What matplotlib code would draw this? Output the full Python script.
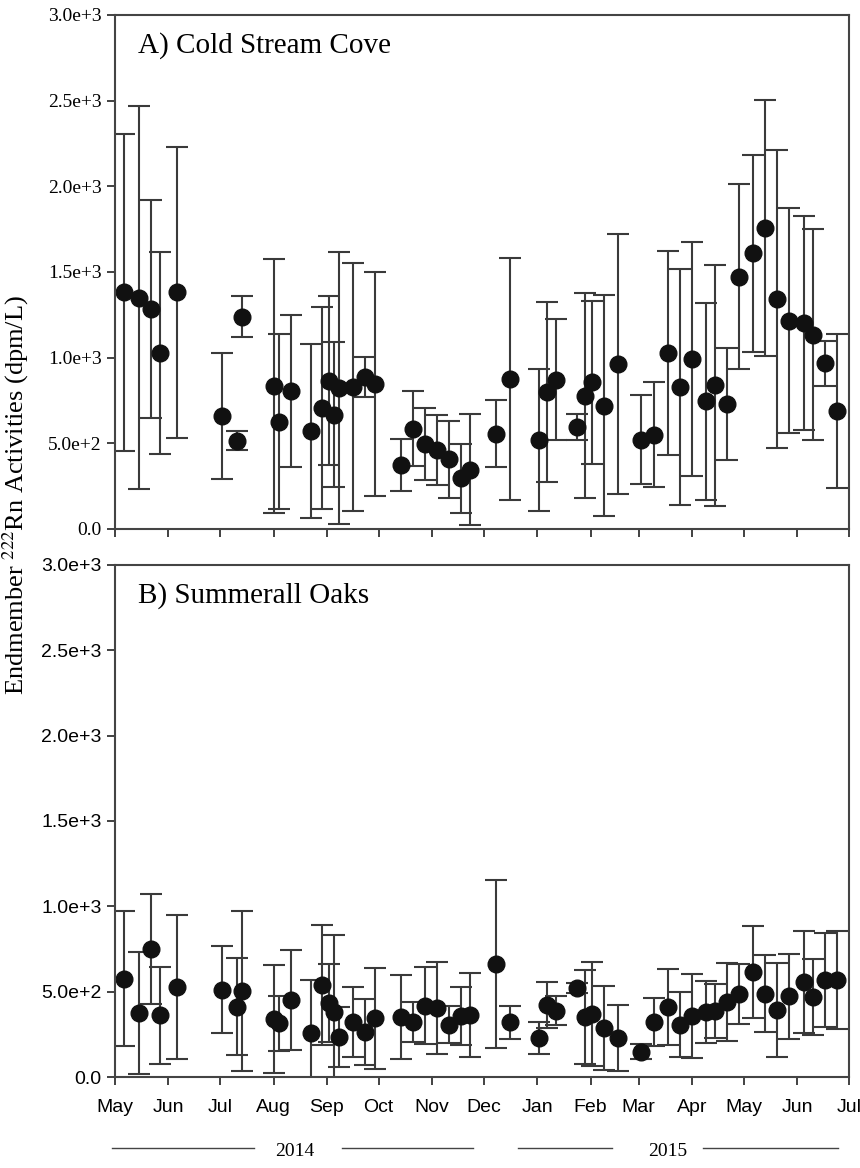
import numpy as np
import pandas as pd
import matplotlib
matplotlib.use("Agg")
import matplotlib.pyplot as plt
import matplotlib.dates as mdates
from matplotlib.ticker import FuncFormatter, FixedLocator
from matplotlib.lines import Line2D

# sampling dates (shared by both sites)
dates = pd.to_datetime([
    "2014-05-06", "2014-05-15", "2014-05-22", "2014-05-27", "2014-06-06",
    "2014-07-02", "2014-07-11", "2014-07-14", "2014-08-01", "2014-08-04",
    "2014-08-11", "2014-08-23", "2014-08-29", "2014-09-02", "2014-09-05",
    "2014-09-08", "2014-09-16", "2014-09-23", "2014-09-29", "2014-10-14",
    "2014-10-21", "2014-10-28", "2014-11-04", "2014-11-11", "2014-11-18",
    "2014-11-23", "2014-12-08", "2014-12-16", "2015-01-02", "2015-01-07",
    "2015-01-12", "2015-01-24", "2015-01-29", "2015-02-02", "2015-02-09",
    "2015-02-17", "2015-03-02", "2015-03-10", "2015-03-18", "2015-03-25",
    "2015-04-01", "2015-04-09", "2015-04-14", "2015-04-21", "2015-04-28",
    "2015-05-06", "2015-05-13", "2015-05-20", "2015-05-27", "2015-06-05",
    "2015-06-10", "2015-06-17", "2015-06-24",
])

# A) Cold Stream Cove
csc_rn = [1381, 1350, 1282, 1025, 1381, 660, 514, 1239, 835, 626,
          805, 572, 706, 864, 667, 823, 829, 887, 845, 374,
          586, 496, 461, 407, 296, 346, 556, 874, 520, 802,
          870, 595, 778, 856, 720, 963, 520, 549, 1027, 827,
          992, 745, 839, 731, 1471, 1609, 1757, 1341, 1216, 1202,
          1134, 967, 687]
csc_err = [923, 1118, 636, 590, 850, 368, 55, 120, 742, 512,
           445, 506, 587, 493, 423, 793, 722, 118, 653, 150,
           220, 210, 204, 224, 200, 325, 196, 705, 414, 525,
           353, 75, 597, 474, 646, 756, 260, 306, 597, 688,
           682, 574, 704, 326, 540, 576, 745, 868, 658, 627,
           617, 130, 450]

# B) Summerall Oaks
so_rn = [576, 375, 752, 362, 526, 512, 412, 504, 340, 315,
         451, 258, 539, 432, 379, 236, 322, 264, 344, 350,
         324, 418, 404, 307, 359, 362, 662, 320, 230, 422,
         389, 523, 353, 369, 289, 230, 148, 322, 410, 307,
         356, 381, 387, 441, 485, 615, 488, 394, 473, 555,
         469, 568, 568]
so_err = [395, 360, 322, 283, 423, 254, 285, 470, 315, 160,
          293, 312, 352, 228, 453, 176, 207, 191, 296, 246,
          116, 227, 272, 107, 170, 247, 494, 98, 94, 133,
          87, 30, 274, 303, 246, 192, 45, 143, 225, 189,
          246, 183, 156, 229, 175, 270, 227, 276, 250, 299,
          222, 274, 287]

panel_titles = ["A) Cold Stream Cove", "B) Summerall Oaks"]
month_ticks = pd.date_range("2014-05-01", "2015-07-01", freq="MS")

serif = ["Liberation Serif", "DejaVu Serif"]
sans = ["Liberation Sans", "DejaVu Sans"]


def sci_fmt(v, pos):
    if v == 0:
        return "0.0"
    m, e = f"{v:.1e}".split("e")
    return f"{m}e+{int(e)}"


fig = plt.figure(figsize=(8.6, 11.68), dpi=100)
ax1 = fig.add_axes([0.1337, 0.5471, 0.8535, 0.4401])
ax2 = fig.add_axes([0.1337, 0.0779, 0.8535, 0.4384])

for ax, y, e, title, tickfont in [(ax1, csc_rn, csc_err, panel_titles[0], serif),
                                  (ax2, so_rn, so_err, panel_titles[1], sans)]:
    ax.errorbar(dates, y, yerr=e, fmt="o", color="#111111", ms=12,
                ecolor="#3a3a3a", elinewidth=1.5, capsize=8, capthick=1.5)
    ax.set_ylim(0, 3000)
    ax.set_xlim(pd.Timestamp("2014-05-01"), pd.Timestamp("2015-07-01"))
    ax.yaxis.set_major_locator(FixedLocator([0, 500, 1000, 1500, 2000, 2500, 3000]))
    ax.yaxis.set_major_formatter(FuncFormatter(sci_fmt))
    ax.set_xticks(month_ticks)
    ax.tick_params(direction="out", length=6, width=1.3, color="#333333")
    for sp in ax.spines.values():
        sp.set_color("#444444")
        sp.set_linewidth(1.5)
    for lab in ax.get_yticklabels():
        lab.set_family(tickfont)
        lab.set_fontsize(14)
    ax.text(0.032, 0.94, title, transform=ax.transAxes, family=serif,
            fontsize=21, va="center", ha="left")

ax1.set_xticklabels([])
ax2.xaxis.set_major_formatter(mdates.DateFormatter("%b"))
for lab in ax2.get_xticklabels():
    lab.set_family(sans)
    lab.set_fontsize(14)
ax2.tick_params(axis="x", pad=10)

fig.text(0.018, 0.576, "Endmember $^{222}$Rn Activities (dpm/L)", rotation=90,
         family=serif, fontsize=19, va="center", ha="center",
         math_fontfamily="stix")

# year brackets under the month axis
yy = 1 - 1148 / 1168
for x0, x1 in [(112, 254), (342, 473), (518, 612), (703, 838)]:
    fig.add_artist(Line2D([x0 / 860, x1 / 860], [yy, yy], color="#444444", lw=1))
fig.text(295 / 860, yy - 0.003, "2014", family=serif, fontsize=14, ha="center", va="center")
fig.text(668 / 860, yy - 0.003, "2015", family=serif, fontsize=14, ha="center", va="center")

fig.savefig("out.png", dpi=100)
